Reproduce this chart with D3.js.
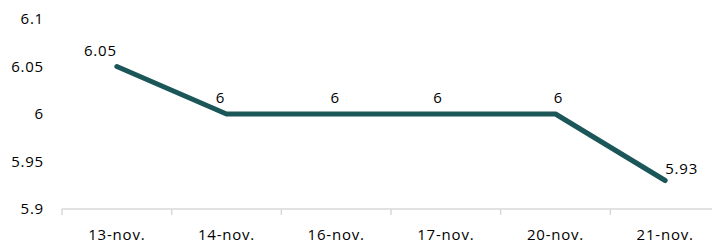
<!DOCTYPE html>
<html>
<head>
<meta charset="utf-8">
<script src="https://cdn.jsdelivr.net/npm/d3@7"></script>
<style>
  body { margin: 0; background: #fff; }
  text { font-family: "Open Sans", "Liberation Sans", sans-serif; fill: #000; font-size: 15px; letter-spacing: 0.8px; }
</style>
</head>
<body>
<div id="chart"></div>
<script>
const dates = ["13-nov.", "14-nov.", "16-nov.", "17-nov.", "20-nov.", "21-nov."];
const values = [6.05, 6, 6, 6, 6, 5.93];
const yTicks = [5.9, 5.95, 6, 6.05, 6.1];

const width = 712, height = 243;

const svg = d3.select("#chart")
  .append("svg")
  .attr("width", width)
  .attr("height", height);

const x = d3.scaleBand().domain(dates).range([62, 720]);
const y = d3.scaleLinear().domain([5.9, 6.1]).range([209, 19]);

// y labels, no axis line
svg.append("g")
  .selectAll("text")
  .data(yTicks)
  .enter()
  .append("text")
  .attr("x", 44)
  .attr("y", d => y(d))
  .attr("dy", "0.35em")
  .attr("text-anchor", "end")
  .text(d => d);

// x axis
const xAxis = svg.append("g")
  .attr("transform", `translate(0, ${y(5.9)})`);

xAxis.append("line")
  .attr("x1", 62).attr("x2", 720)
  .attr("stroke", "#d9d9d9").attr("stroke-width", 1.5);

xAxis.selectAll("line.tick")
  .data(dates)
  .enter()
  .append("line")
  .attr("class", "tick")
  .attr("x1", d => x(d)).attr("x2", d => x(d))
  .attr("y1", 0).attr("y2", 6)
  .attr("stroke", "#d9d9d9").attr("stroke-width", 1.5);

xAxis.selectAll("text")
  .data(dates)
  .enter()
  .append("text")
  .attr("x", d => x(d) + x.bandwidth() / 2)
  .attr("y", 26)
  .attr("dy", "0.35em")
  .attr("text-anchor", "middle")
  .text(d => d);

const pts = dates.map((d, i) => ({ date: d, value: values[i] }));

const line = d3.line()
  .x(d => x(d.date) + x.bandwidth() / 2)
  .y(d => y(d.value));

svg.append("path")
  .datum(pts)
  .attr("d", line)
  .attr("fill", "none")
  .attr("stroke", "#1b5658")
  .attr("stroke-width", 5)
  .attr("stroke-linecap", "round")
  .attr("stroke-linejoin", "round");

// data labels (excel-ish placement nudges)
const last = pts.length - 1;
const nudge = [0, -6, -1, -8, 3, 0];
svg.append("g")
  .selectAll("text")
  .data(pts)
  .enter()
  .append("text")
  .attr("x", (d, i) => x(d.date) + x.bandwidth() / 2 + nudge[i])
  .attr("y", (d, i) => y(d.value) + (i === last ? -12 : -16))
  .attr("dy", "0.35em")
  .attr("text-anchor", (d, i) => i === 0 ? "end" : i === last ? "start" : "middle")
  .text(d => d.value);
</script>
</body>
</html>
